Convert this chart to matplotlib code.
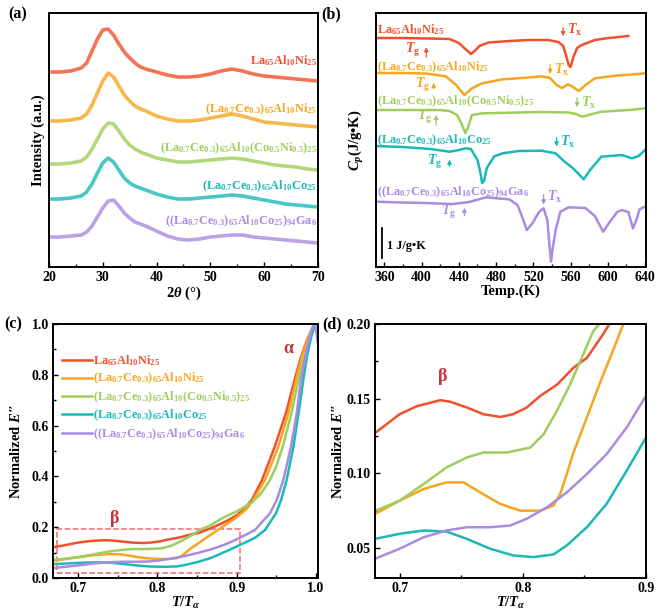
import matplotlib
matplotlib.use("Agg")
import matplotlib.pyplot as plt
from matplotlib.patches import Rectangle

plt.rcParams['font.family'] = ['Liberation Serif', 'DejaVu Serif']
plt.rcParams['font.weight'] = 'bold'
plt.rcParams['axes.labelweight'] = 'bold'
plt.rcParams['mathtext.fontset'] = 'custom'
plt.rcParams['mathtext.rm'] = 'Liberation Serif:bold'
plt.rcParams['mathtext.it'] = 'Liberation Serif:italic:bold'
plt.rcParams['mathtext.bf'] = 'Liberation Serif:bold'

RED = '#f0502d'
ORANGE = '#f7a51f'
GREEN = '#9fcd5c'
CYAN = '#1bb8b8'
PURPLE = '#a98be0'
colors = [RED, ORANGE, GREEN, CYAN, PURPLE]

names = [
    r"La$_{65}$Al$_{10}$Ni$_{25}$",
    r"(La$_{0.7}$Ce$_{0.3}$)$_{65}$Al$_{10}$Ni$_{25}$",
    r"(La$_{0.7}$Ce$_{0.3}$)$_{65}$Al$_{10}$(Co$_{0.5}$Ni$_{0.5}$)$_{25}$",
    r"(La$_{0.7}$Ce$_{0.3}$)$_{65}$Al$_{10}$Co$_{25}$",
    r"((La$_{0.7}$Ce$_{0.3}$)$_{65}$Al$_{10}$Co$_{25}$)$_{94}$Ga$_{6}$",
]

# ---- (a) XRD, stacked intensity (a.u.)
two_theta = [20, 22, 24, 26, 27, 28, 29, 30, 31, 32, 33, 34, 35, 36, 37, 38, 40,
             42, 44, 46, 48, 50, 52, 54, 56, 58, 60, 62, 64, 66, 68, 70]
xrd_red = [195, 195, 196, 199, 204, 216, 228, 237, 238, 232, 223, 215, 209, 204, 200, 198, 195,
           192, 190, 190, 191, 193, 196, 198, 196, 193, 191, 190, 189, 188, 187, 186]
xrd_orange = [146, 146, 147, 149, 153, 162, 174, 186, 194, 190, 181, 172, 166, 161, 158, 156, 151,
              148, 146, 146, 147, 149, 151, 153, 151, 148, 145, 144, 143, 142, 141, 140]
xrd_green = [103, 103, 104, 106, 110, 118, 128, 138, 144, 143, 136, 128, 122, 118, 115, 113, 109,
             107, 105, 105, 106, 107, 108, 109, 108, 106, 104, 102, 101, 100, 98, 97]
xrd_cyan = [68, 68, 69, 71, 75, 83, 94, 104, 109, 105, 97, 89, 84, 81, 79, 77, 73,
            70, 68, 68, 69, 70, 71, 72, 71, 69, 67, 65, 63, 62, 61, 60]
xrd_purple = [30, 30, 31, 32, 35, 41, 50, 59, 66, 67, 61, 54, 49, 45, 43, 41, 36,
              31, 28, 27, 28, 30, 31, 32, 32, 30, 29, 28, 27, 26, 25, 24]
xrd_label_y = [206, 158, 119, 81, 46]

# ---- (b) DSC, stacked Cp (a.u.)
dsc_t_red = [351, 380, 410, 430, 440, 447, 453, 458, 462, 472, 494, 515, 536, 547, 552, 555,
             558, 560, 563, 567, 572, 586, 601, 622]
dsc_red = [229, 229, 228.5, 228, 224, 218, 213, 217, 221, 224.5, 226, 227, 227, 225, 221, 212,
           202, 200, 210, 219, 222, 227, 229, 231]
dsc_t_orange = [351, 380, 405, 426, 437, 446, 454, 465, 487, 508, 529, 538, 545, 551, 557, 561,
                569, 576, 586, 608, 636, 641]
dsc_orange = [194, 194, 193.5, 190.7, 182, 172, 178.7, 183.7, 187.7, 189, 190.7, 189, 182, 179,
              182.7, 181, 176, 182, 188.7, 191.3, 193.3, 194]
dsc_t_green = [351, 380, 420, 430, 438, 443, 447, 450, 454, 465, 504, 529, 558, 566, 572, 576,
               579, 593, 622, 641]
dsc_green = [157, 157, 157, 156, 152, 143, 134, 140, 152, 153.7, 154.5, 155, 154.5, 153, 150.3,
             151, 152, 155.3, 157, 158.7]
dsc_t_cyan = [351, 380, 410, 430, 440, 447, 453, 460, 463, 465, 467, 470, 478, 487, 504, 529,
              544, 554, 561, 568, 574, 581, 593, 615, 626, 633, 638, 641]
dsc_cyan = [121, 120, 118, 115.3, 117, 118.7, 118, 107, 95, 84, 86, 99, 110.7, 113.7, 116, 116.3,
            113.7, 105, 100, 93.7, 87.7, 97, 110.3, 112, 108.7, 111, 115.3, 118]
dsc_t_purple = [351, 380, 405, 433, 451, 469, 494, 503, 508, 513, 519, 526, 531, 535, 537, 539,
                541, 544, 549, 558, 576, 586, 595, 602, 610, 615, 622, 627, 631, 634, 639]
dsc_purple = [65.3, 64.5, 64, 63, 65, 69.7, 67.7, 62, 50, 37, 43.7, 55, 58.7, 47, 25, 5.3,
              20, 37, 55.3, 59.7, 59, 51, 35.3, 45, 55, 57, 55, 38.7, 48, 57.7, 60]
dsc_label_y = [237, 200, 166, 127, 75]
tg_text = [(390, 217), (401, 182), (403, 150), (413.5, 105), (429.5, 55)]
tg_arrow = [(405, 207, 222.7), (413, 175.3, 187), (415.6, 139, 155), (430, 97.7, 110.3), (446, 48.7, 62)]
tx_text = [(556, 237), (542, 197), (571, 164), (549, 125), (535, 70)]
tx_arrow = [(552, 242, 228), (538, 205.3, 190.3), (567, 172, 157), (545, 132, 117.7), (531, 75.3, 59.7)]

# ---- (c)/(d) normalized loss modulus
tr_red = [0.67, 0.68, 0.70, 0.714, 0.733, 0.741, 0.755, 0.768, 0.782, 0.792, 0.803, 0.814, 0.828,
          0.841, 0.852, 0.865, 0.88, 0.89, 0.90, 0.908, 0.919, 0.932, 0.948, 0.962, 0.973, 0.981,
          0.989, 0.995, 1.0]
e_red = [0.122, 0.127, 0.1396, 0.145, 0.149, 0.148, 0.144, 0.1396, 0.1378, 0.1396, 0.144, 0.1518,
         0.1596, 0.1707, 0.1773, 0.193, 0.213, 0.229, 0.247, 0.268, 0.307, 0.386, 0.517, 0.648,
         0.78, 0.87, 0.94, 0.98, 1.0]
tr_orange = [0.67, 0.68, 0.70, 0.7195, 0.738, 0.752, 0.7654, 0.7816, 0.7978, 0.814, 0.8249, 0.8303,
             0.8357, 0.8411, 0.8519, 0.8627, 0.8735, 0.8816, 0.89, 0.90, 0.9126, 0.921, 0.9357,
             0.9525, 0.9652, 0.9748, 0.982, 0.99, 0.995, 1.0]
e_orange = [0.069, 0.0729, 0.0818, 0.0896, 0.094, 0.094, 0.0873, 0.0796, 0.0751, 0.0751, 0.0785,
            0.0862, 0.0996, 0.114, 0.1373, 0.1607, 0.1829, 0.200, 0.218, 0.239, 0.272, 0.307,
            0.386, 0.517, 0.648, 0.78, 0.87, 0.945, 0.98, 1.0]
tr_green = [0.67, 0.684, 0.70, 0.7195, 0.738, 0.7546, 0.768, 0.787, 0.806, 0.8168, 0.8276, 0.8384,
            0.849, 0.857, 0.8627, 0.87, 0.88, 0.89, 0.90, 0.91, 0.92, 0.93, 0.942, 0.95, 0.958,
            0.969, 0.978, 0.985, 0.992, 0.997, 1.0]
e_green = [0.072, 0.0762, 0.0818, 0.0929, 0.104, 0.1107, 0.114, 0.114, 0.1173, 0.1262, 0.1418,
           0.1596, 0.1796, 0.195, 0.2007, 0.213, 0.232, 0.248, 0.262, 0.28, 0.30, 0.33, 0.386,
           0.44, 0.517, 0.648, 0.78, 0.87, 0.945, 0.985, 1.0]
tr_cyan = [0.67, 0.68, 0.70, 0.7195, 0.738, 0.7546, 0.7735, 0.7924, 0.8086, 0.8249, 0.8357, 0.852,
           0.868, 0.8843, 0.90, 0.923, 0.9357, 0.9496, 0.956, 0.963, 0.9715, 0.978, 0.984, 0.989,
           0.994, 0.998, 1.0]
e_cyan = [0.055, 0.0562, 0.0596, 0.0618, 0.0611, 0.0562, 0.0496, 0.0451, 0.044, 0.0458, 0.0518,
          0.064, 0.0796, 0.1018, 0.124, 0.158, 0.189, 0.255, 0.307, 0.386, 0.517, 0.648, 0.78,
          0.88, 0.95, 0.99, 1.0]
tr_purple = [0.67, 0.68, 0.70, 0.7195, 0.738, 0.7546, 0.7735, 0.7897, 0.803, 0.8195, 0.8357, 0.852,
             0.868, 0.8843, 0.90, 0.9231, 0.942, 0.9505, 0.9588, 0.9685, 0.9757, 0.981, 0.987,
             0.992, 0.996, 0.998, 1.0, 1.002]
e_purple = [0.039, 0.0429, 0.0496, 0.0573, 0.0618, 0.064, 0.064, 0.0651, 0.0696, 0.0773, 0.0873,
            0.0996, 0.1129, 0.1307, 0.152, 0.189, 0.255, 0.307, 0.386, 0.517, 0.648, 0.78, 0.88,
            0.95, 0.99, 1.0, 0.985, 0.93]

fig = plt.figure(figsize=(6.6, 6.14), dpi=100)
ax_a = fig.add_axes([0.0742, 0.5651, 0.4076, 0.4137])
ax_b = fig.add_axes([0.5697, 0.5651, 0.4091, 0.4137])
ax_c = fig.add_axes([0.0803, 0.0586, 0.4015, 0.4137])
ax_d = fig.add_axes([0.5682, 0.0586, 0.4106, 0.4137])

for ax in (ax_a, ax_b, ax_c, ax_d):
    for s in ax.spines.values():
        s.set_linewidth(1.4)
    ax.tick_params(which='both', direction='in', labelsize=10, width=1, pad=3)
    ax.tick_params(which='major', length=3.5)
    ax.tick_params(which='minor', length=2)

# (a)
xrd = [xrd_red, xrd_orange, xrd_green, xrd_cyan, xrd_purple]
for ys, c, nm, ly in zip(xrd, colors, names, xrd_label_y):
    ax_a.plot(two_theta, ys, color=c, lw=2.6, alpha=0.8)
    ax_a.text(69.8, ly, nm, color=c, fontsize=8.8, ha='right', va='center')
ax_a.set_xlim(20, 70)
ax_a.set_ylim(0, 254)
ax_a.set_yticks([])
ax_a.set_xticks([20, 30, 40, 50, 60, 70])
ax_a.set_xticks([25, 35, 45, 55, 65], minor=True)
ax_a.set_xlabel(r"2$\mathit{\theta}$ (°)", fontsize=10.5, labelpad=0)
ax_a.set_ylabel("Intensity (a.u.)", fontsize=10.5, labelpad=3)

# (b)
dsc_t = [dsc_t_red, dsc_t_orange, dsc_t_green, dsc_t_cyan, dsc_t_purple]
dsc = [dsc_red, dsc_orange, dsc_green, dsc_cyan, dsc_purple]
for i in range(5):
    c = colors[i]
    ax_b.plot(dsc_t[i], dsc[i], color=c, lw=1.8)
    ax_b.text(352, dsc_label_y[i], names[i], color=c, fontsize=8.8, ha='left', va='center')
    ax_b.text(tg_text[i][0], tg_text[i][1], r"$T_{\mathrm{g}}$", color=c, fontsize=10,
              ha='center', va='center')
    xa, y0, y1 = tg_arrow[i]
    ax_b.annotate("", xy=(xa, y1), xytext=(xa, y0),
                  arrowprops=dict(arrowstyle='-|>', color=c, lw=0.9, mutation_scale=6))
    ax_b.text(tx_text[i][0], tx_text[i][1], r"$T_{\mathrm{x}}$", color=c, fontsize=10,
              ha='left', va='center')
    xa, y0, y1 = tx_arrow[i]
    ax_b.annotate("", xy=(xa, y1), xytext=(xa, y0),
                  arrowprops=dict(arrowstyle='-|>', color=c, lw=0.9, mutation_scale=6))
ax_b.plot([357.5, 357.5], [9, 39], color='black', lw=1.3)
ax_b.text(363, 21, "1 J/g•K", fontsize=8.8, ha='left', va='center')
ax_b.set_xlim(351, 641)
ax_b.set_ylim(0, 254)
ax_b.set_yticks([])
ax_b.set_xticks([360, 400, 440, 480, 520, 560, 600, 640])
ax_b.set_xticks([380, 420, 460, 500, 540, 580, 620], minor=True)
ax_b.set_xlabel("Temp.(K)", fontsize=10.5, labelpad=0)
ax_b.set_ylabel(r"$\mathit{C}_{\mathit{p}}$(J/g•K)", fontsize=10.5, labelpad=7)

# (c) and (d)
tr = [tr_red, tr_orange, tr_green, tr_cyan, tr_purple]
ee = [e_red, e_orange, e_green, e_cyan, e_purple]
for i in range(5):
    ax_c.plot(tr[i], ee[i], color=colors[i], lw=1.8, label=names[i])
    ax_d.plot(tr[i], ee[i], color=colors[i], lw=1.8)

ylab_e = r"Normalized $\mathit{E}$″"

ax_c.add_patch(Rectangle((0.673, 0.018), 0.231, 0.174, fill=False, ec='#f06a6a', lw=1.1, ls='--'))
ax_c.text(0.965, 0.905, "α", color='#c8323c', fontsize=13, ha='center', va='center')
ax_c.text(0.7466, 0.236, "β", color='#c8323c', fontsize=13, ha='center', va='center')
ax_c.legend(loc='upper left', bbox_to_anchor=(0.034, 0.885), frameon=False, fontsize=8.8,
            handlelength=2.45, labelspacing=0.25, handletextpad=0.1, borderpad=0,
            borderaxespad=0, labelcolor='linecolor')
ax_c.set_xlim(0.6685, 1.0025)
ax_c.set_ylim(0, 1.0)
ax_c.set_xticks([0.7, 0.8, 0.9, 1.0])
ax_c.set_xticks([0.75, 0.85, 0.95], minor=True)
ax_c.set_yticks([0.0, 0.2, 0.4, 0.6, 0.8, 1.0])
ax_c.set_yticks([0.1, 0.3, 0.5, 0.7, 0.9], minor=True)
ax_c.set_xlabel(r"$\mathit{T/T}_{\mathit{\alpha}}$", fontsize=10.5, labelpad=0)
ax_c.set_ylabel(ylab_e, fontsize=10.5, labelpad=6)

ax_d.text(0.7348, 0.165, "β", color='#c8323c', fontsize=13, ha='center', va='center')
ax_d.set_xlim(0.68, 0.90)
ax_d.set_ylim(0.03, 0.20)
ax_d.set_xticks([0.7, 0.8, 0.9])
ax_d.set_xticks([0.75, 0.85], minor=True)
ax_d.set_yticks([0.05, 0.10, 0.15, 0.20])
ax_d.set_yticks([0.075, 0.125, 0.175], minor=True)
ax_d.set_yticklabels(["0.05", "0.10", "0.15", "0.20"])
ax_d.set_xlabel(r"$\mathit{T/T}_{\mathit{\alpha}}$", fontsize=10.5, labelpad=0)
ax_d.set_ylabel(ylab_e, fontsize=10.5, labelpad=1)

fig.text(0.026, 0.976, "(a)", fontsize=11.5, ha='center', va='center')
fig.text(0.502, 0.976, "(b)", fontsize=11.5, ha='center', va='center')
fig.text(0.0205, 0.471, "(c)", fontsize=11.5, ha='center', va='center')
fig.text(0.503, 0.471, "(d)", fontsize=11.5, ha='center', va='center')

fig.savefig("out.png", dpi=100)
